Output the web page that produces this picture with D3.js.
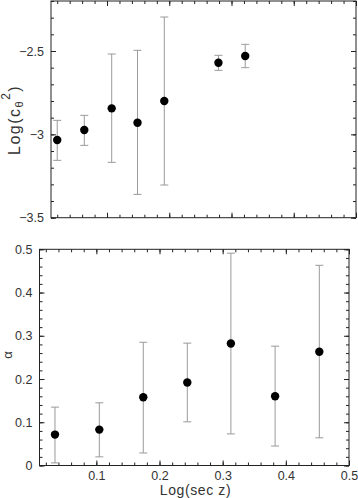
<!DOCTYPE html>
<html>
<head>
<meta charset="utf-8">
<script src="https://cdn.jsdelivr.net/npm/d3@7"></script>
<style>
  body { margin: 0; background: #fff; }
  svg { display: block; font-family: "Liberation Sans", Arial, sans-serif; }
  .tick text { fill: #333; font-size: 12.5px; }
  .tick line { stroke: #222; }
</style>
</head>
<body>
<div id="chart"></div>
<script>
// top panel: Log(c_theta^2) vs Log(sec z)
const topX  = [0.020, 0.0635, 0.1075, 0.149, 0.192, 0.279, 0.322];
const topY  = [-3.034, -2.974, -2.844, -2.930, -2.800, -2.570, -2.530];
const topHi = [-2.916, -2.886, -2.518, -2.496, -2.296, -2.526, -2.460];
const topLo = [-3.156, -3.066, -3.168, -3.360, -3.304, -2.616, -2.600];

// bottom panel: alpha vs Log(sec z)
const botX  = [0.0345, 0.1047, 0.1743, 0.244, 0.313, 0.383, 0.453];
const botY  = [0.0715, 0.083, 0.158, 0.192, 0.282, 0.160, 0.263];
const botHi = [0.135, 0.145, 0.285, 0.283, 0.491, 0.276, 0.463];
const botLo = [0.006, 0.020, 0.029, 0.101, 0.073, 0.045, 0.064];

// tick labels
const xMajor = [0.1, 0.2, 0.3, 0.4, 0.5];
const topYMajor = [-3.5, -3, -2.5];
const botYMajor = [0, 0.1, 0.2, 0.3, 0.4, 0.5];

const xMinor = d3.range(0.02, 0.501, 0.02);
const topYMinor = d3.range(-3.5, -2.19, 0.1);
const botYMinor = d3.range(0, 0.501, 0.02);

const width = 358, height = 498;

const svg = d3.select('#chart')
    .append('svg')
    .attr('width', width)
    .attr('height', height);

function panel(opts) {
    const { left, top, w, h, xDomain, yDomain, yMajor, yMinor, xLabels, yFmt, xs, ys, hi, lo } = opts;
    const x = d3.scaleLinear().domain(xDomain).range([0, w]);
    const y = d3.scaleLinear().domain(yDomain).range([h, 0]);

    const g = svg.append('g').attr('transform', `translate(${left},${top})`);

    const fmtX = d => d === 0 ? '0' : d3.format('.1f')(d);

    // bottom axis
    g.append('g').attr('transform', `translate(0,${h})`)
        .call(d3.axisBottom(x).tickValues(xMinor).tickSize(-3).tickSizeOuter(0).tickFormat(''));
    g.append('g').attr('transform', `translate(0,${h})`)
        .call(d3.axisBottom(x).tickValues(xMajor).tickSize(-5).tickSizeOuter(0).tickPadding(6)
            .tickFormat(xLabels ? fmtX : ''));
    // top axis
    g.append('g')
        .call(d3.axisTop(x).tickValues(xMinor).tickSize(-3).tickSizeOuter(0).tickFormat(''));
    g.append('g')
        .call(d3.axisTop(x).tickValues(xMajor).tickSize(-5).tickSizeOuter(0).tickFormat(''));
    // left axis
    g.append('g')
        .call(d3.axisLeft(y).tickValues(yMinor).tickSize(-3).tickSizeOuter(0).tickFormat(''));
    g.append('g')
        .call(d3.axisLeft(y).tickValues(yMajor).tickSize(-5).tickSizeOuter(0).tickPadding(7).tickFormat(yFmt));
    // right axis
    g.append('g').attr('transform', `translate(${w},0)`)
        .call(d3.axisRight(y).tickValues(yMinor).tickSize(-3).tickSizeOuter(0).tickFormat(''));
    g.append('g').attr('transform', `translate(${w},0)`)
        .call(d3.axisRight(y).tickValues(yMajor).tickSize(-5).tickSizeOuter(0).tickFormat(''));

    g.selectAll('.domain').remove();

    // frame
    g.append('rect')
        .attr('width', w)
        .attr('height', h)
        .attr('fill', 'none')
        .attr('stroke', '#222')
        .attr('stroke-width', 1);

    const idx = d3.range(xs.length);

    // error bars
    const eb = g.selectAll('.err').data(idx).enter().append('g').attr('class', 'err')
        .attr('stroke', '#9a9a9a').attr('stroke-width', 1);
    eb.append('line')
        .attr('x1', i => x(xs[i])).attr('x2', i => x(xs[i]))
        .attr('y1', i => y(hi[i])).attr('y2', i => y(lo[i]));
    eb.append('line')
        .attr('x1', i => x(xs[i]) - 4).attr('x2', i => x(xs[i]) + 4)
        .attr('y1', i => y(hi[i])).attr('y2', i => y(hi[i]));
    eb.append('line')
        .attr('x1', i => x(xs[i]) - 4).attr('x2', i => x(xs[i]) + 4)
        .attr('y1', i => y(lo[i])).attr('y2', i => y(lo[i]));

    // points
    g.selectAll('.pt').data(idx).enter().append('circle')
        .attr('class', 'pt')
        .attr('cx', i => x(xs[i]))
        .attr('cy', i => y(ys[i]))
        .attr('r', 4.2)
        .attr('fill', '#000');

    return g;
}

panel({
    left: 51, top: 1, w: 305, h: 216.7,
    xDomain: [0.01, 0.5], yDomain: [-3.5, -2.2],
    yMajor: topYMajor, yMinor: topYMinor, xLabels: false,
    yFmt: d3.format('~g'),
    xs: topX, ys: topY, hi: topHi, lo: topLo
});

panel({
    left: 39.5, top: 249.3, w: 309.5, h: 216.2,
    xDomain: [0.01, 0.5], yDomain: [0, 0.5],
    yMajor: botYMajor, yMinor: botYMinor, xLabels: true,
    yFmt: d => d === 0 ? '0' : d3.format('.1f')(d),
    xs: botX, ys: botY, hi: botHi, lo: botLo
});

// axis titles
const yt = svg.append('text')
    .attr('transform', 'translate(20,155) rotate(-90)')
    .attr('fill', '#333')
    .attr('font-size', '16px')
    .attr('letter-spacing', '1.5px');
yt.append('tspan').text('Log(c');
yt.append('tspan').attr('font-size', '11px').attr('dy', 3).text('θ');
yt.append('tspan').attr('font-size', '12px').attr('dy', -13).text('2');
yt.append('tspan').attr('dy', 10).text(')');

svg.append('text')
    .attr('transform', 'translate(12,355) rotate(-90)')
    .attr('text-anchor', 'middle')
    .attr('fill', '#333')
    .attr('font-size', '13px')
    .text('α');

svg.append('text')
    .attr('x', 195.5)
    .attr('y', 495)
    .attr('text-anchor', 'middle')
    .attr('fill', '#333')
    .attr('font-size', '14px')
    .attr('letter-spacing', '0.6px')
    .text('Log(sec z)');
</script>
</body>
</html>
